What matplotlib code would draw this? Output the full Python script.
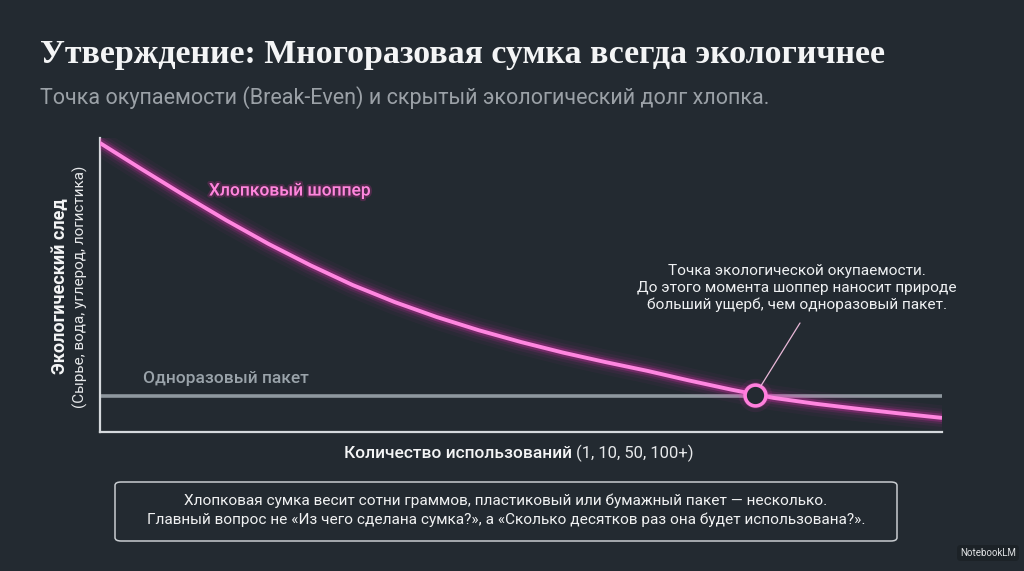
import matplotlib
matplotlib.use("Agg")
import matplotlib.pyplot as plt
from matplotlib.patches import FancyBboxPatch
import matplotlib.patheffects as pe

# ---- data ----
uses = [0, 5, 10, 15, 20, 25, 30, 35, 40, 45, 50, 55, 60, 65, 70, 75, 80, 85, 90, 95, 100]
cotton_footprint = [98.3, 89.3, 80.5, 72.0, 64.0, 56.7, 50.0, 44.2, 39.1, 34.6, 30.6,
                    27.0, 23.8, 20.8, 17.5, 14.4, 11.6, 9.6, 7.9, 6.3, 4.8]
bag_uses = [0, 100]
bag_footprint = [12.3, 12.3]
breakeven_x = 77.8
breakeven_y = 12.5

title = "Утверждение: Многоразовая сумка всегда экологичнее"
subtitle = "Точка окупаемости (Break-Even) и скрытый экологический долг хлопка."
cotton_label = "Хлопковый шоппер"
bag_label = "Одноразовый пакет"
ylabel_main = "Экологический след"
ylabel_sub = "(Сырье, вода, углерод, логистика)"
xlabel_main = "Количество использований"
xlabel_sub = "(1, 10, 50, 100+)"
annot_text = ("Точка экологической окупаемости.\n"
              "До этого момента шоппер наносит природе\n"
              "больший ущерб, чем одноразовый пакет.")
box_text = ("Хлопковая сумка весит сотни граммов, пластиковый или бумажный пакет — несколько.\n"
            "Главный вопрос не «Из чего сделана сумка?», а «Сколько десятков раз она будет использована?».")

BG = "#232a31"
W, H = 1024, 571

fig = plt.figure(figsize=(W / 100, H / 100), dpi=100, facecolor=BG)


def fx(x):
    return x / W


def fy(y):
    return 1 - y / H


SANS = ["Roboto", "DejaVu Sans"]

# axes placed in pixels
left, right, top, bottom = 100, 942, 138, 432
ax = fig.add_axes([fx(left), fy(bottom), fx(right - left), (bottom - top) / H])
ax.set_facecolor(BG)
ax.set_xlim(0, 100)
ax.set_ylim(0, 100)
for s in ["top", "right"]:
    ax.spines[s].set_visible(False)
for s in ["left", "bottom"]:
    ax.spines[s].set_color("#d5d9dd")
    ax.spines[s].set_linewidth(1.6)
ax.set_xticks([])
ax.set_yticks([])

# disposable bag line
ax.plot(bag_uses, bag_footprint, color="#8e979e", lw=2.6, solid_capstyle="butt", zorder=2)

# cotton glow
for lw, a in [(18, 0.035), (13, 0.06), (9, 0.11), (6, 0.22)]:
    ax.plot(uses, cotton_footprint, color="#ff2ec4", lw=lw, alpha=a,
            solid_capstyle="round", solid_joinstyle="round", zorder=3)
ax.plot(uses, cotton_footprint, color="#ff86e0", lw=2.8, solid_capstyle="butt",
        solid_joinstyle="round", zorder=4)

# break-even marker
for ms, a in [(24, 0.07), (19, 0.14)]:
    ax.plot([breakeven_x], [breakeven_y], "o", ms=ms, color="#ff2ec4", alpha=a, zorder=5,
            markeredgewidth=0)
ax.plot([breakeven_x], [breakeven_y], "o", ms=15, markerfacecolor=BG,
        markeredgecolor="#ff7fdc", markeredgewidth=2.6, zorder=6)

# annotation text and leader line
fig.text(fx(797), fy(288), annot_text, ha="center", va="center", color="#eef0f2",
         fontsize=11.1, family=SANS, linespacing=1.25)
ax.annotate("", xy=(breakeven_x, breakeven_y), xytext=(fx(800), fy(323)),
            textcoords="figure fraction",
            arrowprops=dict(arrowstyle="-", color="#e9b8d8", lw=0.9,
                            shrinkA=0, shrinkB=8), zorder=7)

# series labels
fig.text(fx(209), fy(191), cotton_label, color="#ff86dd", fontsize=12.5,
         family=SANS, weight="medium", ha="left", va="center",
         path_effects=[pe.withStroke(linewidth=3, foreground="#7a2a63", alpha=0.5)])
fig.text(fx(143), fy(379), bag_label, color="#9aa3aa", fontsize=12.5,
         family=SANS, weight="medium", ha="left", va="center")

# title & subtitle
fig.text(fx(40), fy(54), title, color="#f4f5f6", fontsize=24.4,
         family=["Liberation Serif", "DejaVu Serif"], weight="bold", ha="left", va="center")
fig.text(fx(40), fy(98), subtitle, color="#9ba1a7", fontsize=15.5,
         family=SANS, ha="left", va="center")

# y label
fig.text(fx(60), fy(286), ylabel_main, color="#f4f5f6", fontsize=13,
         family=SANS, weight="bold", rotation=90, ha="center", va="center")
fig.text(fx(80), fy(287), ylabel_sub, color="#e6e8ea", fontsize=11,
         family=SANS, rotation=90, ha="center", va="center")

# x label
fig.text(fx(572), fy(453), xlabel_main, color="#f4f5f6", fontsize=12.5,
         family=SANS, weight="medium", ha="right", va="center")
fig.text(fx(576), fy(453), xlabel_sub, color="#e6e8ea", fontsize=12,
         family=SANS, ha="left", va="center")

# bottom box
box = FancyBboxPatch((fx(115), fy(541)), fx(897 - 115), (541 - 482) / H,
                     boxstyle="round,pad=0,rounding_size=0.006",
                     transform=fig.transFigure, facecolor=BG,
                     edgecolor="#c9cdd1", lw=1.1)
fig.patches.append(box)
fig.text(fx(506), fy(510), box_text, color="#f0f1f2", fontsize=11.1,
         family=SANS, ha="center", va="center", linespacing=1.4)

# watermark
fig.text(fx(1016), fy(553), "NotebookLM", color="#e0e2e4", fontsize=7,
         family=SANS, ha="right", va="center",
         bbox=dict(boxstyle="round,pad=0.3", facecolor="#1c2227", edgecolor="none"))

fig.savefig("out.png", dpi=100, facecolor=BG)
